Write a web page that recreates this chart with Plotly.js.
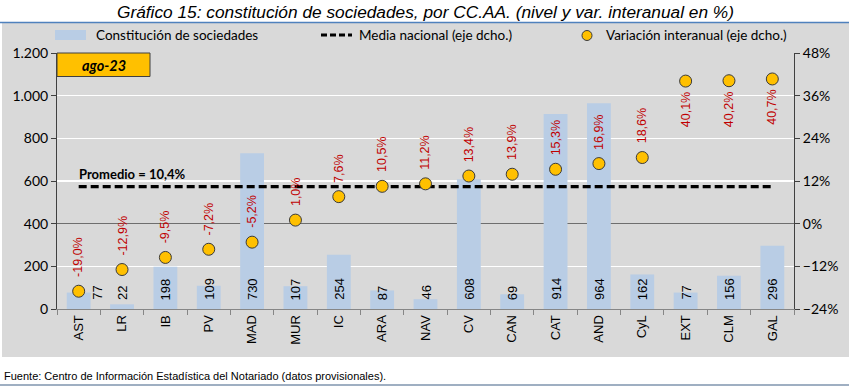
<!DOCTYPE html>
<html><head><meta charset="utf-8">
<script src="https://cdn.plot.ly/plotly-3.0.1.min.js"></script>
<style>html,body{margin:0;padding:0;background:#fff}#chart{width:850px;height:386px}</style>
</head><body><div id="chart"></div>
<script>
const regions = ['AST','LR','IB','PV','MAD','MUR','IC','ARA','NAV','CV','CAN','CAT','AND','CyL','EXT','CLM','GAL'];
const sociedades = [77,22,198,109,730,107,254,87,46,608,69,914,964,162,77,156,296];
const variacion = [-19.0,-12.9,-9.5,-7.2,-5.2,1.0,7.6,10.5,11.2,13.4,13.9,15.3,16.9,18.6,40.1,40.2,40.7];
const mediaNacional = 10.4;
const periodo = 'ago-23';

const L = 57, R = 794, T = 53, B = 309;
const px = v => (v - L) / (R - L);
const py = v => (B - v) / (B - T);
const fmt = v => v.toFixed(1).replace('.', ',') + '%';

const traces = [
  {type:'bar', x: regions, y: sociedades, marker:{color:'#B9CDE5'}, yaxis:'y', hoverinfo:'skip', showlegend:false},
  {type:'scatter', mode:'lines', x: regions, y: regions.map(()=>mediaNacional), yaxis:'y2',
   line:{color:'#000', width:3.2, dash:'8px,4px'}, showlegend:false},
  {type:'scatter', mode:'markers', x: regions, y: variacion, yaxis:'y2',
   marker:{size:12, color:'#FFC000', line:{color:'#3a3a3a', width:1}}, showlegend:false}
];

const ann = [];
sociedades.forEach((v,i)=>{
  ann.push({xref:'x', yref:'y', x: regions[i], y: 0, text: String(v), textangle:-90,
    showarrow:false, yanchor:'bottom', xanchor:'center', yshift:7, xshift: i===0 ? 18 : 0,
    font:{family:'Liberation Sans, Arial', size:13, color:'#000'}});
});
variacion.forEach((v,i)=>{
  const below = v > 30;
  ann.push({xref:'x', yref:'y2', x: regions[i], y: v, text: fmt(v), textangle:-90,
    showarrow:false, yanchor: below ? 'top' : 'bottom', xanchor:'center', yshift: below ? -9 : 12,
    font:{family:'Liberation Sans, Arial', size:12.5, color:'#C00000'}});
});
ann.push({xref:'x', yref:'y2', x: regions[0], y: mediaNacional, text:'<b>Promedio = ' + fmt(mediaNacional) + '</b>',
  showarrow:false, xanchor:'left', yanchor:'bottom', yshift:3, xshift:-2,
  font:{family:'Lato, Calibri, sans-serif', size:13, color:'#000'}});
ann.push({xref:'paper', yref:'paper', x: px(103.5), y: py(65), text:'<b><i>' + periodo + '</i></b>', showarrow:false,
  xanchor:'center', yanchor:'middle', font:{family:'Lato, Calibri, sans-serif', size:14.5, color:'#000'}});
const legFont = {family:'Lato, Calibri, sans-serif', size:13.5, color:'#000'};
ann.push({xref:'paper', yref:'paper', x: px(94), y: py(35), text:'Constitución de sociedades', showarrow:false, xanchor:'left', yanchor:'middle', font:legFont});
ann.push({xref:'paper', yref:'paper', x: px(357), y: py(35), text:'Media nacional (eje dcho.)', showarrow:false, xanchor:'left', yanchor:'middle', font:legFont});
ann.push({xref:'paper', yref:'paper', x: px(604), y: py(35), text:'Variación interanual (eje dcho.)', showarrow:false, xanchor:'left', yanchor:'middle', font:legFont});
ann.push({xref:'paper', yref:'paper', x: px(2), y: py(376), text:'Fuente: Centro de Información Estadística del Notariado (datos provisionales).', showarrow:false, xanchor:'left', yanchor:'middle',
  font:{family:'Liberation Sans Narrow, Arial Narrow, sans-serif', size:11, color:'#000'}});

const shapes = [
  {type:'rect', xref:'paper', yref:'paper', x0: px(2), x1: px(849), y0: py(22), y1: py(357), fillcolor:'#D9D9D9', line:{width:0}, layer:'below'},
  {type:'line', xref:'paper', yref:'paper', x0: px(0), x1: px(849), y0: py(22.5), y1: py(22.5), line:{color:'#4F81BD', width:1.3}},
  {type:'line', xref:'paper', yref:'paper', x0: px(0), x1: px(849), y0: py(385), y1: py(385), line:{color:'#7F94AE', width:1.3}},
  {type:'rect', xref:'paper', yref:'paper', x0: px(57), x1: px(150), y0: py(53), y1: py(76.5), fillcolor:'#FFC000', line:{color:'#404040', width:1}},
  {type:'rect', xref:'paper', yref:'paper', x0: px(55), x1: px(86), y0: py(30), y1: py(40), fillcolor:'#B9CDE5', line:{width:0}},
  {type:'line', xref:'paper', yref:'paper', x0: px(321), x1: px(352), y0: py(35), y1: py(35), line:{color:'#000', width:3, dash:'6px,3px'}},
  {type:'circle', xref:'paper', yref:'paper', x0: px(582), x1: px(592), y0: py(30.5), y1: py(40.5), fillcolor:'#FFC000', line:{color:'#3a3a3a', width:1}}
];

const layout = {
  width:850, height:386,
  margin:{l:L, r:850-R, t:T, b:386-B, pad:0},
  paper_bgcolor:'#FFFFFF', plot_bgcolor:'rgba(0,0,0,0)',
  separators: ',.',
  showlegend:false,
  bargap:0.45,
  title:{text:'<i>Gráfico 15: constitución de sociedades, por CC.AA. (nivel y var. interanual en %)</i>',
    x:0.5, xref:'paper', xanchor:'center', y: 1-11.5/386, yref:'container', yanchor:'middle',
    font:{family:'Liberation Sans Narrow, Arial Narrow, sans-serif', size:17.3, color:'#000'}},
  xaxis:{type:'category', tickson:'boundaries', ticks:'outside', ticklen:5, tickcolor:'#868686',
    showline:true, linecolor:'#868686', linewidth:1, tickangle:-90, showgrid:false,
    tickfont:{family:'Liberation Sans, Arial', size:13, color:'#000'}, range:[-0.5,16.5], fixedrange:true},
  yaxis:{range:[0,1200], dtick:200, tickformat:',d', ticks:'outside', ticklen:5, tickcolor:'#404040',
    showline:true, linecolor:'#404040', linewidth:1, gridcolor:'#FFFFFF', gridwidth:1.3, zeroline:false,
    tickfont:{family:'Lato, Calibri, sans-serif', size:14, color:'#000'}},
  yaxis2:{range:[-24,48], dtick:12, ticksuffix:'%', overlaying:'y', side:'right', ticks:'outside', ticklen:5,
    tickcolor:'#404040', showline:true, linecolor:'#404040', linewidth:1, showgrid:false,
    zeroline:true, zerolinecolor:'#6E6E6E', zerolinewidth:1.6,
    tickfont:{family:'Lato, Calibri, sans-serif', size:14, color:'#000'}},
  annotations: ann,
  shapes: shapes
};

Plotly.newPlot('chart', traces, layout, {displayModeBar:false, staticPlot:true});
</script></body></html>
